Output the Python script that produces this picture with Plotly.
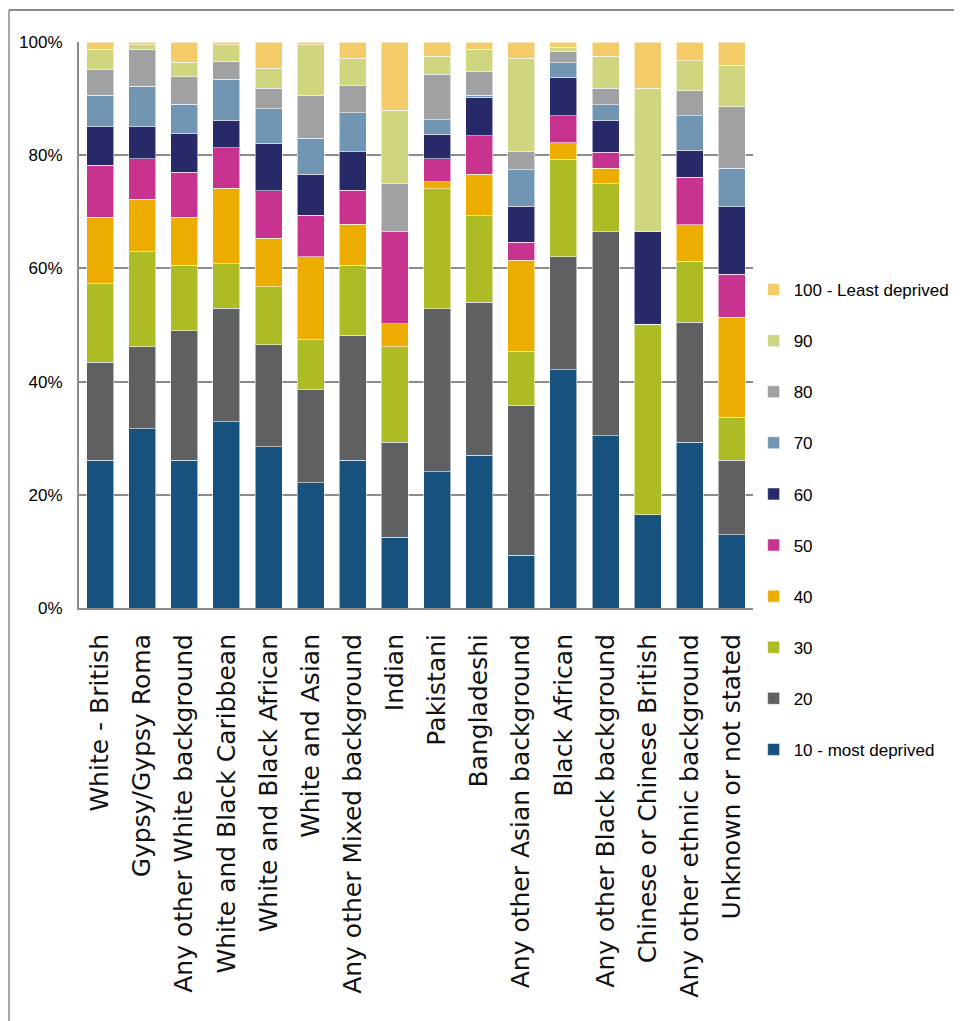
import plotly.graph_objects as go

categories = ["White - British", "Gypsy/Gypsy Roma", "Any other White background",
              "White and Black Caribbean", "White and Black African", "White and Asian",
              "Any other Mixed background", "Indian", "Pakistani", "Bangladeshi",
              "Any other Asian background", "Black African", "Any other Black background",
              "Chinese or Chinese British", "Any other ethnic background", "Unknown or not stated"]

series_names = ["10 - most deprived", "20", "30", "40", "50", "60", "70", "80", "90",
                "100 - Least deprived"]

s10 = [26.1, 31.7, 26.1, 32.9, 28.5, 22.1, 26.1, 12.5, 24.1, 27.0, 9.3, 42.1, 30.5, 16.5, 29.3, 12.9]
s20 = [17.3, 14.5, 22.9, 20.1, 18.0, 16.5, 22.1, 16.8, 28.9, 27.1, 26.5, 20.0, 36.0, 0, 21.2, 13.2]
s30 = [13.9, 16.7, 11.6, 7.9, 10.3, 8.8, 12.4, 16.9, 21.2, 15.3, 9.6, 17.2, 8.5, 33.6, 10.8, 7.6]
s40 = [11.7, 9.3, 8.4, 13.3, 8.5, 14.7, 7.3, 4.0, 1.3, 7.3, 16.0, 2.9, 2.8, 0, 6.5, 17.6]
s50 = [9.2, 7.2, 8.0, 7.2, 8.4, 7.3, 6.0, 16.3, 4.0, 6.8, 3.2, 4.8, 2.8, 0, 8.4, 7.6]
s60 = [6.8, 5.6, 6.8, 4.9, 8.4, 7.2, 6.8, 0, 4.4, 6.8, 6.4, 6.8, 5.7, 16.3, 4.8, 11.9]
s70 = [5.6, 7.2, 5.2, 7.2, 6.1, 6.4, 6.9, 0, 2.5, 0.4, 6.4, 2.5, 2.7, 0, 6.1, 6.8]
s80 = [4.5, 6.5, 4.9, 3.2, 3.6, 7.6, 4.8, 8.5, 8.1, 4.1, 3.2, 2.0, 2.9, 0, 4.4, 10.9]
s90 = [3.6, 0.8, 2.5, 2.9, 3.6, 8.9, 4.8, 12.9, 3.2, 4.0, 16.5, 0.8, 5.7, 25.3, 5.3, 7.3]
s100 = [1.3, 0.5, 3.6, 0.5, 4.6, 0.5, 2.9, 12.1, 2.5, 1.3, 2.9, 0.9, 2.5, 8.2, 3.3, 4.1]

values = [s10, s20, s30, s40, s50, s60, s70, s80, s90, s100]
colors = ["#17517e", "#5f6062", "#adbb24", "#edad00", "#c8338f",
          "#272968", "#7196b4", "#a0a1a3", "#cfd67f", "#f3cb68"]

fig = go.Figure()
for i, (name, vals, col) in enumerate(zip(series_names, values, colors)):
    fig.add_trace(go.Bar(
        x=categories, y=vals, name=name,
        marker=dict(color=col, line=dict(color="rgba(255,255,255,0.55)", width=1)),
        legendgroup=name, legendrank=100 - i,
    ))

sans = "Liberation Sans, Arial, sans-serif"
grid = "#8c8c8c"

fig.update_layout(
    barmode="stack", barnorm="percent", bargap=0.36,
    width=954, height=1013,
    margin=dict(l=71, r=209, t=34, b=413, autoexpand=False),
    paper_bgcolor="white", plot_bgcolor="white",
    showlegend=True,
    legend=dict(
        xref="container", yref="container", x=0.7816, y=0.7394, xanchor="left", yanchor="top",
        font=dict(family=sans, size=17, color="black"),
        tracegroupgap=26, bgcolor="rgba(0,0,0,0)",
    ),
    xaxis=dict(
        tickangle=-90, tickfont=dict(family="DejaVu Sans, Verdana, sans-serif", size=25, color="#111111"),
        showline=True, linecolor=grid, linewidth=2, ticks="", ticklabelstandoff=14,
        showgrid=False, automargin=False,
    ),
    yaxis=dict(
        range=[0, 100], dtick=20, ticksuffix="%",
        tickfont=dict(family=sans, size=17, color="black"),
        showline=True, linecolor=grid, linewidth=2, ticks="", ticklabelstandoff=11,
        showgrid=True, gridcolor=grid, gridwidth=2, zeroline=False, automargin=False,
    ),
    shapes=[
        dict(type="line", xref="paper", yref="paper", x0=-0.1039, x1=-0.1039, y0=1.0565, y1=-0.75,
             line=dict(color="#a6a6a6", width=2)),
        dict(type="line", xref="paper", yref="paper", x0=-0.1039, x1=1.32, y0=1.0565, y1=1.0565,
             line=dict(color="#8c8c8c", width=2)),
    ],
)

fig.write_html("out.html")
